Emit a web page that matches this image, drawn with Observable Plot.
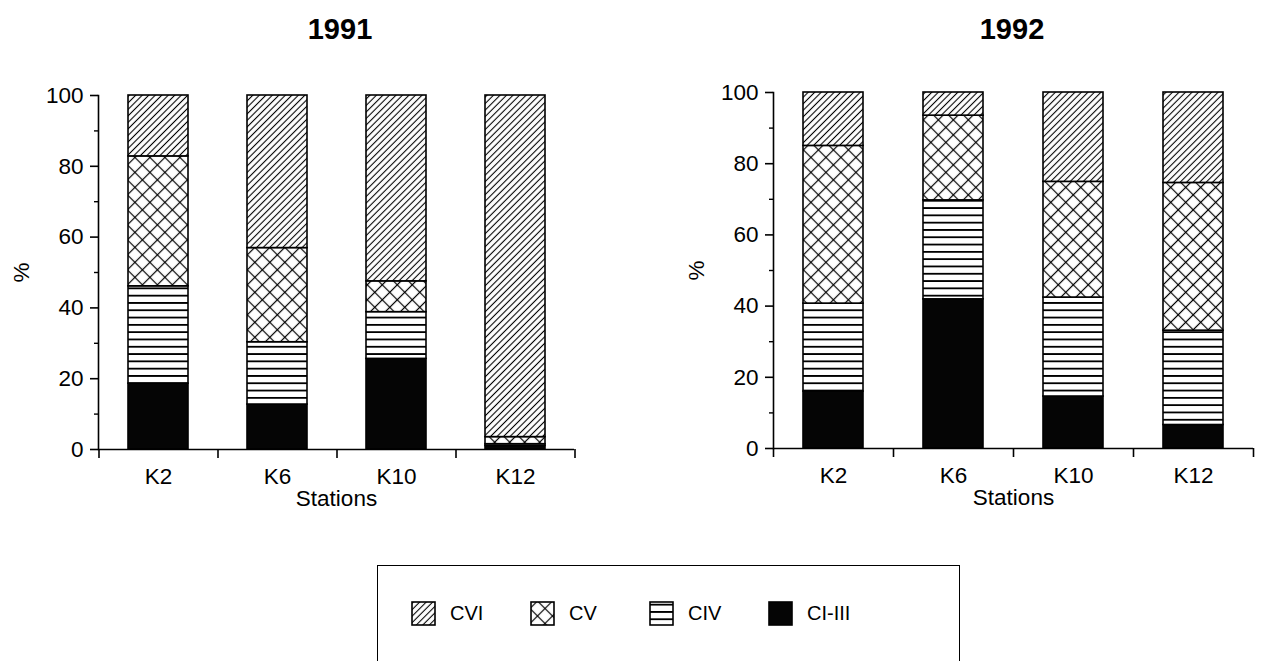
<!DOCTYPE html>
<html><head><meta charset="utf-8">
<script src="https://cdn.jsdelivr.net/npm/d3@7"></script>
<script src="https://cdn.jsdelivr.net/npm/@observablehq/plot@0.6"></script>
<style>
html,body{margin:0;padding:0;background:#fff;overflow:hidden}
#root{position:relative;width:1266px;height:661px;font-family:"Liberation Sans",Arial,sans-serif;color:#000}
.title{position:absolute;font-weight:bold;font-size:29px;line-height:32px;transform:translateX(-50%)}
.chart{position:absolute;top:0}
#legend{position:absolute;left:377px;top:565px;width:583px;height:120px;border:1.6px solid #000;box-sizing:border-box;display:flex;align-items:flex-start;padding-left:33px;padding-top:35px}
.item{width:119px;display:flex;align-items:center;font-size:20px}
.item svg{margin-right:14px}
</style></head>
<body>
<svg width="0" height="0" style="position:absolute">
<defs>
<pattern id="pCVI" patternUnits="userSpaceOnUse" width="4.6" height="10" patternTransform="rotate(45)">
<rect width="4.6" height="10" fill="#fff"/>
<line x1="2.3" y1="0" x2="2.3" y2="10" stroke="#000" stroke-width="1.1"/>
</pattern>
<pattern id="pCV" patternUnits="userSpaceOnUse" width="10.6" height="10.6" patternTransform="rotate(45)">
<rect width="10.6" height="10.6" fill="#fff"/>
<line x1="0" y1="5.3" x2="10.6" y2="5.3" stroke="#000" stroke-width="1.2"/>
<line x1="5.3" y1="0" x2="5.3" y2="10.6" stroke="#000" stroke-width="1.2"/>
</pattern>
<pattern id="pCIV" patternUnits="userSpaceOnUse" width="10" height="7.3">
<rect width="10" height="7.3" fill="#fff"/>
<line x1="0" y1="3.65" x2="10" y2="3.65" stroke="#000" stroke-width="1.8"/>
</pattern>
</defs>
</svg>
<div id="root"></div>
<script>
// ---- data ----
const stations = ["K2", "K6", "K10", "K12"];
const stages = ["CVI", "CV", "CIV", "CI-III"];          // legend order
const stackOrder = ["CI-III", "CIV", "CV", "CVI"];      // bottom -> top
const years = ["1991", "1992"];
const yTicks = [0, 20, 40, 60, 80, 100];
const yMinorTicks = [10, 30, 50, 70, 90];

// percentages per station (K2, K6, K10, K12)
const cI_III_1991 = [18.6, 12.7, 25.6, 1.0];
const cIV_1991    = [27.5, 17.6, 13.2, 0.5];
const cV_1991     = [36.7, 26.6, 8.7, 2.0];
const cVI_1991    = [17.2, 43.1, 52.5, 96.5];

const cI_III_1992 = [16.0, 41.9, 14.6, 6.6];
const cIV_1992    = [24.7, 27.8, 27.8, 26.5];
const cV_1992     = [44.3, 23.8, 32.5, 41.5];
const cVI_1992    = [15.0, 6.5, 25.1, 25.4];

const fills = {"CVI": "url(#pCVI)", "CV": "url(#pCV)", "CIV": "url(#pCIV)", "CI-III": "#050505"};
const font = '"Liberation Sans", Arial, sans-serif';

function rows(cols) {
  const out = [];
  stations.forEach((s, i) => {
    for (const st of stackOrder) out.push({station: s, stage: st, value: cols[st][i]});
  });
  return out;
}

function chart(cols, {width, height, marginTop, marginBottom, marginLeft, marginRight}) {
  const step = (width - marginLeft - marginRight) / stations.length;
  return Plot.plot({
    width, height, marginTop, marginBottom, marginLeft, marginRight,
    style: {fontFamily: font, fontSize: "22.5px", background: "transparent", color: "#000", overflow: "visible"},
    x: {domain: stations, paddingInner: 0.5, paddingOuter: 0.25},
    y: {domain: [0, 100]},
    color: {domain: stackOrder, range: stackOrder.map(s => fills[s])},
    marks: [
      Plot.barY(rows(cols), {x: "station", y: "value", fill: "stage", order: stackOrder, stroke: "#000", strokeWidth: 1.6}),
      Plot.ruleY([0], {strokeWidth: 1.6}),
      Plot.frame({anchor: "left", strokeWidth: 1.6}),
      Plot.axisY({ticks: yTicks, tickSize: 8, tickPadding: 7, strokeWidth: 1.6, label: "%", labelAnchor: "center", labelOffset: 85, labelArrow: "none"}),
      Plot.axisY({ticks: yMinorTicks, tickSize: 4, strokeWidth: 1.4, tickFormat: () => "", label: null}),
      Plot.axisX({tickSize: 0, tickPadding: 19, label: "Stations", labelAnchor: "center", labelOffset: 56, labelArrow: "none"}),
      Plot.axisX({tickSize: 9, strokeWidth: 1.6, tickFormat: () => "", label: null, dx: -step / 2}),
      Plot.axisX({ticks: [stations[stations.length - 1]], tickSize: 9, strokeWidth: 1.6, tickFormat: () => "", label: null, dx: step / 2})
    ]
  });
}

const root = document.getElementById("root");

const cols1991 = {"CI-III": cI_III_1991, "CIV": cIV_1991, "CV": cV_1991, "CVI": cVI_1991};
const cols1992 = {"CI-III": cI_III_1992, "CIV": cIV_1992, "CV": cV_1992, "CVI": cVI_1992};

const layouts = [
  {left: 0, titleX: 340, cols: cols1991, dims: {width: 620, height: 530, marginTop: 95, marginBottom: 81, marginLeft: 98, marginRight: 46}},
  {left: 676, titleX: 1012, cols: cols1992, dims: {width: 590, height: 530, marginTop: 92, marginBottom: 82, marginLeft: 97, marginRight: 13}}
];

years.forEach((yr, k) => {
  const L = layouts[k];
  const t = document.createElement("div");
  t.className = "title";
  t.textContent = yr;
  t.style.left = L.titleX + "px";
  t.style.top = "13px";
  root.appendChild(t);
  const svg = chart(L.cols, L.dims);
  svg.classList.add("chart");
  svg.style.left = L.left + "px";
  root.appendChild(svg);
});

// legend
const legend = document.createElement("div");
legend.id = "legend";
for (const st of stages) {
  const item = document.createElement("div");
  item.className = "item";
  const sw = d3.create("svg").attr("width", 25).attr("height", 25);
  sw.append("rect").attr("x", 1).attr("y", 1).attr("width", 23).attr("height", 23)
    .attr("fill", fills[st]).attr("stroke", "#000").attr("stroke-width", 1.6);
  item.appendChild(sw.node());
  const lab = document.createElement("span");
  lab.textContent = st;
  item.appendChild(lab);
  legend.appendChild(item);
}
root.appendChild(legend);
</script>
</body></html>
